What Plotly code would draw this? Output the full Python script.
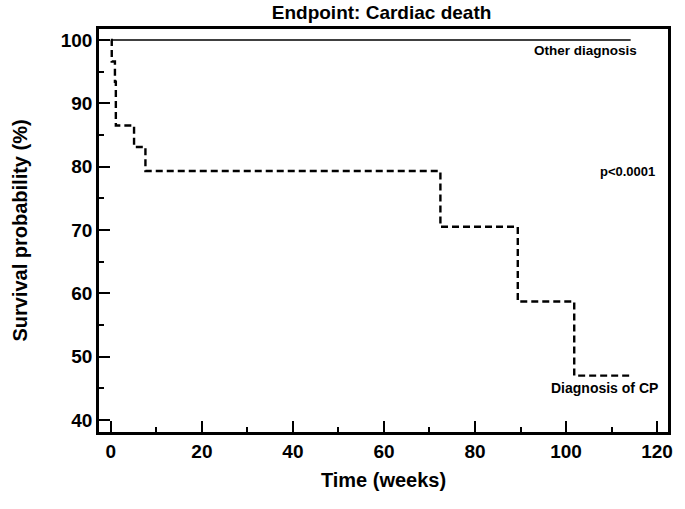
import plotly.graph_objects as go

# Kaplan-Meier step data
cp_time = [0, 0.2, 0.9, 1.1, 5.1, 7.6, 72.4, 89.4, 101.8, 114.2]
cp_surv = [100, 96.6, 93.4, 86.5, 83.1, 79.3, 70.5, 58.7, 47.0, 47.0]
other_time = [0, 114.2]
other_surv = [100, 100]

x_ticks = [0, 20, 40, 60, 80, 100, 120]
y_ticks = [40, 50, 60, 70, 80, 90, 100]

FONT = "Liberation Sans, Arial, sans-serif"

fig = go.Figure()
fig.add_trace(go.Scatter(x=other_time, y=other_surv, mode="lines",
                         line=dict(color="black", width=1.5, shape="hv"),
                         showlegend=False, hoverinfo="skip"))
fig.add_trace(go.Scatter(x=cp_time, y=cp_surv, mode="lines",
                         line=dict(color="black", width=2.4, shape="hv", dash="7px,4px"),
                         showlegend=False, hoverinfo="skip"))

fig.add_annotation(x=116.0, y=98.3, text="Other diagnosis", showarrow=False,
                   xanchor="right", yanchor="middle",
                   font=dict(family=FONT, size=13.5, color="black", weight="bold"))
fig.add_annotation(x=119.9, y=79.2, text="p<0.0001", showarrow=False,
                   xanchor="right", yanchor="middle",
                   font=dict(family=FONT, size=13, color="black", weight="bold"))
fig.add_annotation(x=120.6, y=45.0, text="Diagnosis of CP", showarrow=False,
                   xanchor="right", yanchor="middle",
                   font=dict(family=FONT, size=14, color="black", weight="bold"))

fig.update_layout(
    width=685, height=509,
    margin=dict(l=99, r=13, t=29, b=77),
    paper_bgcolor="white", plot_bgcolor="white",
    title=dict(text="Endpoint: Cardiac death", x=0.557, xanchor="center",
               y=0.975, yanchor="middle",
               font=dict(family=FONT, size=19, color="black", weight="bold")),
    xaxis=dict(range=[-2.6, 122.4], tickvals=x_ticks, ticktext=[str(v) for v in x_ticks],
               ticks="inside", ticklen=11, tickwidth=2, tickcolor="black",
               minor=dict(dtick=10, tick0=0, ticks="inside", ticklen=5, tickwidth=1.5, tickcolor="black"),
               showline=True, linecolor="black", linewidth=2.5, mirror=True,
               showgrid=False, zeroline=False,
               tickfont=dict(family=FONT, size=19, color="black", weight="bold"),
               title=dict(text="Time (weeks)", standoff=13,
                          font=dict(family=FONT, size=20, color="black", weight="bold"))),
    yaxis=dict(range=[38.1, 101.73], tickvals=y_ticks, ticktext=[str(v) for v in y_ticks],
               ticks="inside", ticklen=11, tickwidth=2, tickcolor="black",
               minor=dict(dtick=5, tick0=0, ticks="inside", ticklen=5, tickwidth=1.5, tickcolor="black"),
               showline=True, linecolor="black", linewidth=2.5, mirror=True,
               showgrid=False, zeroline=False,
               tickfont=dict(family=FONT, size=19, color="black", weight="bold"),
               title=dict(text="Survival probability (%)", standoff=28,
                          font=dict(family=FONT, size=20, color="black", weight="bold"))),
)

fig.write_html("out.html", config={"displayModeBar": False},
               post_script="document.body.style.margin='0px';")
